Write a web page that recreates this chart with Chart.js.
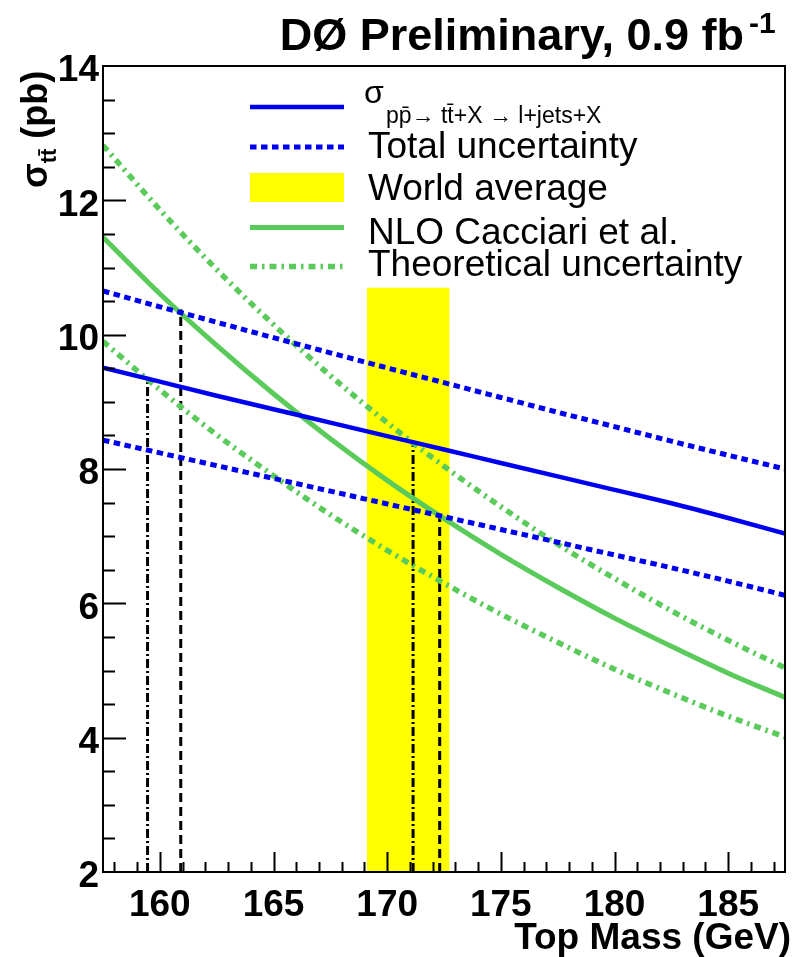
<!DOCTYPE html>
<html>
<head>
<meta charset="utf-8">
<script src="https://cdn.jsdelivr.net/npm/chart.js@4"></script>
<style>
  html, body { margin: 0; padding: 0; background: #fff; }
  #wrap { width: 793px; height: 957px; position: relative; }
</style>
</head>
<body>
<div id="wrap"><canvas id="c"></canvas></div>
<script>
// Top-quark mass grid (GeV)
const topMass = [157.5, 160, 162.5, 165, 167.5, 170, 172.5, 175, 177.5, 180, 182.5, 185, 187.5];
// Measured l+jets cross section and its total uncertainty band (pb)
const sigmaMeasured  = [9.51, 9.30, 9.09, 8.89, 8.69, 8.49, 8.29, 8.09, 7.89, 7.69, 7.49, 7.27, 7.04];
const sigmaTotalUp   = [10.65, 10.415, 10.185, 9.955, 9.73, 9.505, 9.285, 9.065, 8.845, 8.63, 8.415, 8.205, 8.00];
const sigmaTotalDown = [8.43, 8.24, 8.05, 7.86, 7.67, 7.48, 7.29, 7.10, 6.91, 6.72, 6.53, 6.33, 6.12];
// NLO prediction (Cacciari et al.) with theoretical uncertainty (pb)
const sigmaNLO     = [11.45, 10.61, 9.84, 9.12, 8.45, 7.83, 7.26, 6.73, 6.24, 5.78, 5.36, 4.96, 4.60];
const sigmaNLOUp   = [12.82, 11.86, 10.97, 10.15, 9.39, 8.69, 8.04, 7.44, 6.88, 6.37, 5.89, 5.45, 5.04];
const sigmaNLODown = [9.90, 9.18, 8.51, 7.90, 7.32, 6.79, 6.30, 5.84, 5.42, 5.02, 4.66, 4.32, 4.01];
// World-average top mass band
const worldAvgMass = [169.1, 172.75];
const worldAvgTop = 10.7;
// Vertical markers at the curve crossings
const markDashDotMass = [159.46, 171.14];
const markDashDotTop  = [9.35, 8.40];
const markDashedMass  = [160.92, 172.31];
const markDashedTop   = [10.38, 7.28];
// Axis labels
const xTickLabels = [160, 165, 170, 175, 180, 185];
const yTickLabels = [2, 4, 6, 8, 10, 12, 14];
const legendLabels = ['Total uncertainty', 'World average', 'NLO Cacciari et al.', 'Theoretical uncertainty'];

const BLUE = '#0000f0';
const GREEN = '#5acb5a';
const YELLOW = '#ffff00';
const DASH_TOTAL = [6.5, 4.5];
const DASH_THEORY = [7, 5, 2.5, 5];
const FONT = '"Liberation Sans", Arial, Helvetica, sans-serif';

const pts = (arr) => topMass.map((m, i) => ({ x: m, y: arr[i] }));
const curve = (arr, color, width, dash) => ({
  data: pts(arr), borderColor: color, borderWidth: width, borderDash: dash,
  borderCapStyle: 'butt', pointRadius: 0, fill: false,
  tension: 0.4, cubicInterpolationMode: 'monotone'
});
const marker = (m, top, dash) => ({
  data: [{ x: m, y: 2 }, { x: m, y: top }], borderColor: '#000', borderWidth: 3,
  borderDash: dash, borderCapStyle: 'butt', pointRadius: 0, fill: false, tension: 0
});

const datasets = [
  curve(sigmaMeasured, BLUE, 4.5, []),
  curve(sigmaTotalUp, BLUE, 5, DASH_TOTAL),
  curve(sigmaTotalDown, BLUE, 5, DASH_TOTAL),
  curve(sigmaNLO, GREEN, 5, []),
  curve(sigmaNLOUp, GREEN, 5.5, DASH_THEORY),
  curve(sigmaNLODown, GREEN, 5.5, DASH_THEORY),
  marker(markDashDotMass[0], markDashDotTop[0], [9, 3, 2, 3]),
  marker(markDashedMass[0], markDashedTop[0], [9, 5]),
  marker(markDashDotMass[1], markDashDotTop[1], [9, 3, 2, 3]),
  marker(markDashedMass[1], markDashedTop[1], [9, 5]),
  {
    data: worldAvgMass.map(m => ({ x: m, y: worldAvgTop })),
    borderWidth: 0, borderColor: 'rgba(0,0,0,0)', backgroundColor: YELLOW,
    pointRadius: 0, fill: 'start', tension: 0, order: 10
  }
];

// Frame and inward tick marks
const frameTicks = {
  id: 'frameTicks',
  afterDatasetsDraw(chart) {
    const { ctx, chartArea: a, scales: { x, y } } = chart;
    ctx.save();
    ctx.strokeStyle = '#000';
    ctx.lineWidth = 2;
    ctx.setLineDash([]);
    ctx.beginPath();
    for (let m = 158; m <= 187; m++) {
      const px = Math.round(x.getPixelForValue(m)) + 0.5;
      const len = xTickLabels.includes(m) ? 20 : 10;
      ctx.moveTo(px, a.bottom);
      ctx.lineTo(px, a.bottom - len);
    }
    for (let v = 2.5; v < 14; v += 0.5) {
      const py = Math.round(y.getPixelForValue(v)) + 0.5;
      const len = yTickLabels.includes(v) ? 23 : 12;
      ctx.moveTo(a.left, py);
      ctx.lineTo(a.left + len, py);
    }
    ctx.stroke();
    ctx.strokeRect(a.left, a.top, a.right - a.left, a.bottom - a.top);
    ctx.restore();
  }
};

// Legend, titles and axis captions
const annotations = {
  id: 'annotations',
  afterDraw(chart) {
    const ctx = chart.ctx;
    ctx.save();
    const x0 = 250, x1 = 344;
    const sample = (yy, color, w, dash) => {
      ctx.beginPath();
      ctx.setLineDash(dash);
      ctx.strokeStyle = color;
      ctx.lineWidth = w;
      ctx.lineCap = 'butt';
      ctx.moveTo(x0, yy);
      ctx.lineTo(x1, yy);
      ctx.stroke();
    };
    sample(107, BLUE, 4.5, []);
    sample(147, BLUE, 5, DASH_TOTAL);
    ctx.fillStyle = YELLOW;
    ctx.fillRect(x0, 173, x1 - x0, 29);
    sample(227.5, GREEN, 5, []);
    sample(266.5, GREEN, 5.5, DASH_THEORY);
    ctx.setLineDash([]);

    ctx.fillStyle = '#000';
    ctx.textAlign = 'left';
    ctx.textBaseline = 'alphabetic';
    ctx.font = '32px ' + FONT;
    ctx.fillText('σ', 364, 103);
    ctx.font = '23px ' + FONT;
    ctx.fillText('pp\u0304\u2192 tt\u0304+X \u2192 l+jets+X', 386, 123);
    ctx.font = '37px ' + FONT;
    const baselines = [158, 200, 244, 276];
    legendLabels.forEach((t, i) => ctx.fillText(t, 368, baselines[i]));

    // Title
    ctx.font = 'bold 45px ' + FONT;
    ctx.textAlign = 'right';
    ctx.fillText('DØ Preliminary, 0.9 fb', 744, 50);
    ctx.font = 'bold 30px ' + FONT;
    ctx.textAlign = 'left';
    ctx.fillText('-1', 749, 33);

    // X axis caption
    ctx.font = 'bold 37px ' + FONT;
    ctx.textAlign = 'right';
    ctx.fillText('Top Mass (GeV)', 791, 949);

    // Y axis caption (rotated)
    ctx.translate(47, 188);
    ctx.rotate(-Math.PI / 2);
    ctx.textAlign = 'left';
    ctx.font = 'bold 36px ' + FONT;
    ctx.fillText('σ', 0, 0);
    let w = ctx.measureText('σ').width;
    ctx.font = 'bold 22px ' + FONT;
    ctx.fillText('tt\u0304', w, 9);
    w += ctx.measureText('tt\u0304').width;
    ctx.font = 'bold 36px ' + FONT;
    ctx.fillText(' (pb)', w, 0);
    ctx.restore();
  }
};

new Chart(document.getElementById('c'), {
  type: 'line',
  data: { datasets },
  options: {
    responsive: true,
    maintainAspectRatio: false,
    animation: false,
    layout: { padding: { top: 66, right: 8, left: 0, bottom: 0 } },
    plugins: { legend: { display: false }, tooltip: { enabled: false } },
    scales: {
      x: {
        type: 'linear', min: 157.5, max: 187.5,
        afterBuildTicks(s) { s.ticks = xTickLabels.map(v => ({ value: v })); },
        afterFit(s) { s.height = 85; },
        grid: { display: false, drawTicks: false },
        border: { display: false },
        ticks: { padding: 12, autoSkip: false, maxRotation: 0, color: '#000',
                 font: { family: FONT, size: 37, weight: 'bold' } }
      },
      y: {
        type: 'linear', min: 2, max: 14,
        afterBuildTicks(s) { s.ticks = yTickLabels.map(v => ({ value: v })); },
        afterFit(s) { s.width = 103; },
        grid: { display: false, drawTicks: false },
        border: { display: false },
        ticks: { padding: 4, labelOffset: 5, autoSkip: false, color: '#000',
                 font: { family: FONT, size: 37, weight: 'bold' } }
      }
    }
  },
  plugins: [frameTicks, annotations]
});
</script>
</body>
</html>
